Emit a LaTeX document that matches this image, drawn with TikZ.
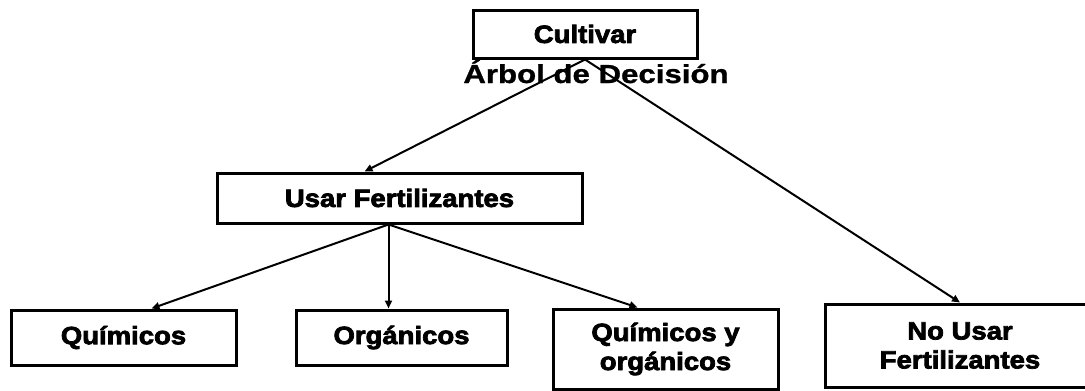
\documentclass[tikz,border=0pt]{standalone}
\usepackage{fontspec}
\setmainfont{Liberation Sans}
\newfontfamily\boxfont{Liberation Sans}[FakeStretch=1.1,FakeBold=3]
\newfontfamily\titlefont{Liberation Sans}[FakeStretch=1.2,FakeBold=1]
\usetikzlibrary{arrows.meta,calc}
\begin{document}
\begin{tikzpicture}[x=1pt,y=-1pt,
  box/.style={draw=black,line width=3pt,rectangle,inner sep=0pt,align=center,
    font=\boxfont\bfseries\fontsize{25}{29}\selectfont},
  arr/.style={draw=black,line width=2pt,-{Triangle[length=8pt,width=7pt]}}]
\useasboundingbox (0,0) rectangle (1085,391);
\node[box,minimum width=224pt,minimum height=48pt] (cult) at (585,34) {Cultivar};
\node[box,minimum width=365pt,minimum height=50pt] (usar) at (399.5,198) {Usar Fertilizantes};
\node[box,minimum width=225pt,minimum height=55pt] (quim) at (123.5,337.5) {Químicos};
\node[box,minimum width=211pt,minimum height=55pt] (org) at (401.5,337.5) {Orgánicos};
\node[box,minimum width=225pt,minimum height=80pt] (qyo) at (665.5,349) {Químicos y\\orgánicos};
\node[box,minimum width=270pt,minimum height=83pt] (nouse) at (960,345.5) {No Usar\\Fertilizantes};
\node[anchor=base,inner sep=0pt,font=\titlefont\bfseries\fontsize{26}{30}\selectfont] (title) at (596,83) {Árbol de Decisión};
\coordinate (uo) at ($(usar.south)+(-11,0)$);
\draw[arr] (cult.south) -- ($(usar.north west)!0.405!(usar.north east)$);
\draw[arr] (cult.south) -- (nouse.north);
\draw[arr] (uo) -- ($(quim.north)+(28,0)$);
\draw[arr] (uo) -- (uo |- org.north);
\draw[arr] (uo) -- ($(qyo.north)+(-28,0)$);
\end{tikzpicture}
\end{document}
